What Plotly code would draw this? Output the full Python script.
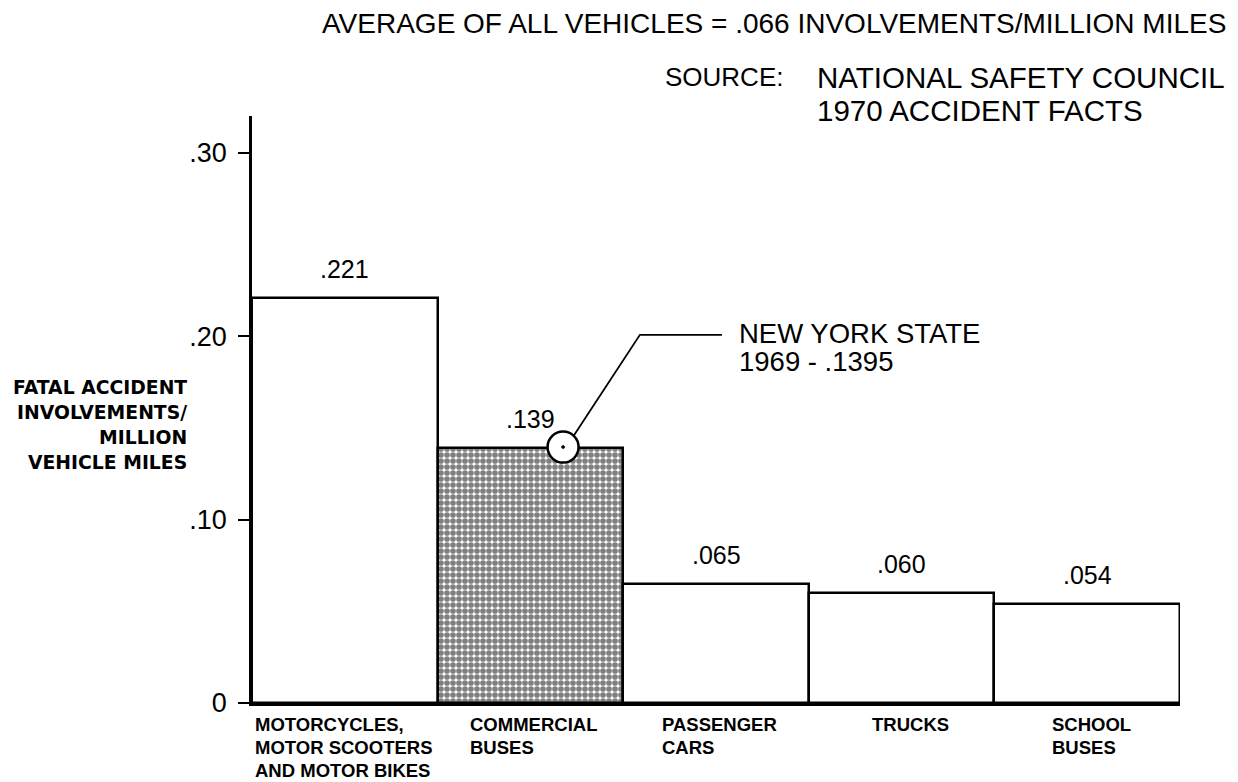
import plotly.graph_objects as go

# data
categories = [
    "MOTORCYCLES,<br>MOTOR SCOOTERS<br>AND MOTOR BIKES",
    "COMMERCIAL<br>BUSES",
    "PASSENGER<br>CARS",
    "TRUCKS",
    "SCHOOL<br>BUSES",
]
rates = [0.221, 0.139, 0.065, 0.060, 0.054]
value_labels = [".221", ".139", ".065", ".060", ".054"]
y_ticks = [0, 0.10, 0.20, 0.30]
y_tick_labels = ["0", ".10", ".20", ".30"]
ny_state_1969 = 0.1395
ny_note = ["NEW YORK STATE", "1969 - .1395"]
y_title = ["FATAL ACCIDENT", "INVOLVEMENTS/", "MILLION", "VEHICLE MILES"]

FONT = "Arial, Liberation Sans, sans-serif"
# left offset (px) of each category label from its bar's left edge
label_shift = [1, 30, 37, 61, 56]

x = list(range(len(categories)))

fig = go.Figure()

fig.add_trace(
    go.Bar(
        x=x,
        y=rates,
        width=1.0,
        marker=dict(
            color="white",
            line=dict(color="black", width=2.5),
            pattern=dict(
                shape=["", ".", "", "", ""],
                fgcolor="black",
                bgcolor="white",
                size=6,
                solidity=0.7,
            ),
        ),
        hoverinfo="skip",
        showlegend=False,
    )
)

# New York State 1969 point on the commercial bus bar
fig.add_trace(
    go.Scatter(
        x=[1.176],
        y=[ny_state_1969],
        mode="markers",
        marker=dict(
            symbol="circle-dot",
            size=31,
            color="white",
            line=dict(color="black", width=2.5),
        ),
        hoverinfo="skip",
        showlegend=False,
    )
)

# leader line from the circle to the note
fig.add_shape(
    type="path",
    xref="x",
    yref="y",
    path="M 1.235 0.146 L 1.59 0.2007 L 2.032 0.2007",
    line=dict(color="black", width=1.8),
)

for i, line in enumerate(ny_note):
    fig.add_annotation(
        x=2.032, y=0.2007, xref="x", yref="y", text=line,
        xanchor="left", yanchor="middle",
        xshift=15, yshift=1 - 28 * i, showarrow=False,
        font=dict(family=FONT, size=27.5, color="black"),
    )

# values above the bars
for xi, v, lab in zip(x, rates, value_labels):
    fig.add_annotation(
        x=xi, y=v, xref="x", yref="y", text=lab,
        yanchor="middle", yshift=29, showarrow=False,
        font=dict(family=FONT, size=25, color="black"),
    )

# category labels, left-aligned under each bar, one annotation per line
for xi, lab, sh in zip(x, categories, label_shift):
    for j, line in enumerate(lab.split("<br>")):
        fig.add_annotation(
            x=xi - 0.5, y=0, xref="x", yref="y", text=line,
            xanchor="left", yanchor="middle",
            xshift=sh, yshift=-21 - 23 * j, showarrow=False,
            font=dict(family=FONT, size=18.5, color="black", weight="bold"),
        )

# y-axis title, right-aligned block
for i, line in enumerate(y_title):
    fig.add_annotation(
        x=-0.068, y=0.5383 - 0.0426 * i, xref="paper", yref="paper",
        text=line, xanchor="right", yanchor="middle", showarrow=False,
        font=dict(family="DejaVu Sans, sans-serif", size=18.8,
                  color="black", weight="bold"),
    )

# header notes
fig.add_annotation(
    x=1.0517, y=1.157, xref="paper", yref="paper",
    text="AVERAGE OF ALL VEHICLES = .066 INVOLVEMENTS/MILLION MILES",
    xanchor="right", yanchor="middle", showarrow=False,
    font=dict(family=FONT, size=28, color="black"),
)
fig.add_annotation(
    x=0.5744, y=1.0664, xref="paper", yref="paper", text="SOURCE:",
    xanchor="right", yanchor="middle", showarrow=False,
    font=dict(family=FONT, size=26, color="black"),
)
fig.add_annotation(
    x=0.6067, y=1.0664, xref="paper", yref="paper",
    text="NATIONAL SAFETY COUNCIL",
    xanchor="left", yanchor="middle", showarrow=False,
    font=dict(family=FONT, size=29.5, color="black"),
)
fig.add_annotation(
    x=0.6067, y=1.0102, xref="paper", yref="paper",
    text="1970 ACCIDENT FACTS",
    xanchor="left", yanchor="middle", showarrow=False,
    font=dict(family=FONT, size=29.5, color="black"),
)

# page body adds an 8px margin, so the figure is 8px smaller each way
fig.update_layout(
    width=1230,
    height=774,
    margin=dict(l=244, r=58, t=108, b=79),
    paper_bgcolor="white",
    plot_bgcolor="white",
    bargap=0,
    font=dict(family=FONT, color="black"),
    xaxis=dict(
        range=[-0.5, 4.5],
        showticklabels=False,
        ticks="",
        showgrid=False,
        zeroline=False,
        showline=True,
        linecolor="black",
        linewidth=2.5,
        fixedrange=True,
    ),
    yaxis=dict(
        range=[0, 0.32],
        tickvals=y_ticks,
        ticktext=y_tick_labels,
        ticks="outside",
        ticklen=11,
        tickwidth=2,
        tickcolor="black",
        ticklabelstandoff=6,
        tickfont=dict(family=FONT, size=27, color="black"),
        showgrid=False,
        zeroline=False,
        showline=True,
        linecolor="black",
        linewidth=2.5,
        fixedrange=True,
    ),
)

fig.write_html("out.html")
